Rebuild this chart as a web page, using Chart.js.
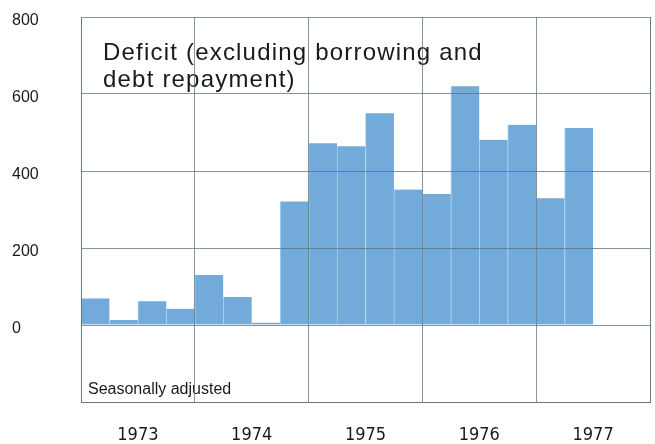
<!DOCTYPE html>
<html>
<head>
<meta charset="utf-8">
<script src="https://cdn.jsdelivr.net/npm/chart.js@4"></script>
<style>
  html,body{margin:0;padding:0;background:#fff;}
  #wrap{width:655px;height:444px;position:relative;}
</style>
</head>
<body>
<div id="wrap"><canvas id="c"></canvas></div>
<script>
// quarterly deficit, seasonally adjusted
const quarters = ["1973 Q1","1973 Q2","1973 Q3","1973 Q4","1974 Q1","1974 Q2","1974 Q3","1974 Q4",
  "1975 Q1","1975 Q2","1975 Q3","1975 Q4","1976 Q1","1976 Q2","1976 Q3","1976 Q4","1977 Q1","1977 Q2"];
const deficit = [69,13,62,42,130,73,6,321,472,464,550,352,340,620,481,520,329,512];
const years = [1973,1974,1975,1976,1977];
const yTicks = [800,600,400,200,0];

// bars sit on a linear time axis, one quarter wide each
const points = quarters.map((q,i)=>{
  const yr = parseInt(q.slice(0,4)), qn = parseInt(q.slice(-1));
  return {x: yr + (qn-0.5)/4, y: deficit[i]};
});

const gridCol = 'rgba(90,115,130,0.75)';

const notes = {
  id:'notes',
  afterDatasetsDraw(chart){
    const c = chart.ctx, a = chart.chartArea;
    c.save();
    c.fillStyle = '#1a1a1a';
    c.textBaseline = 'alphabetic';
    c.font = '24px "Liberation Sans", Arial, sans-serif';
    c.letterSpacing = '1.2px';
    c.fillText('Deficit (excluding borrowing and', a.left+22, a.top+43);
    c.fillText('debt repayment)', a.left+22, a.top+70);
    c.letterSpacing = '0px';
    c.font = '16px "Liberation Sans", Arial, sans-serif';
    c.fillText('Seasonally adjusted', a.left+7, a.bottom-8);
    c.restore();
  }
};

new Chart(document.getElementById('c'),{
  type:'bar',
  data:{datasets:[{
    data:points,
    backgroundColor:'#72aad9',
    borderColor:'#a9d0ef',
    borderWidth:{left:1,right:0,top:0,bottom:0},
    borderSkipped:false,
    barPercentage:1,
    categoryPercentage:1,
    xAxisID:'x'
  }]},
  plugins:[notes],
  options:{
    responsive:true,
    maintainAspectRatio:false,
    animation:false,
    layout:{padding:{left:12,right:5,top:17,bottom:0}},
    plugins:{legend:{display:false},tooltip:{enabled:false}},
    scales:{
      x:{
        type:'linear', min:1973, max:1978, offset:false,
        position:'bottom',
        border:{display:true,color:gridCol,z:1},
        grid:{color:gridCol,lineWidth:1,z:1,drawTicks:false,offset:false},
        afterBuildTicks(ax){ ax.ticks = years.concat([1978]).map(v=>({value:v})); },
        ticks:{display:false},
        afterFit(ax){ ax.height = 0; }
      },
      x2:{
        type:'linear', min:1973, max:1978, offset:false,
        position:'bottom',
        grid:{display:false,drawTicks:false,offset:false},
        border:{display:false},
        afterBuildTicks(ax){ ax.ticks = years.map(v=>({value:v+0.5})); },
        afterFit(ax){ ax.height = 42; },
        ticks:{
          callback:(v)=>String(Math.floor(v)),
          color:'#1a1a1a',
          padding:23,
          maxRotation:0,
          autoSkip:false,
          font:{family:'"Liberation Sans Narrow", "DejaVu Sans Condensed", sans-serif',size:18}
        }
      },
      y:{
        min:-200, max:800,
        afterBuildTicks(ax){ ax.ticks = [-200].concat(yTicks.slice().reverse()).map(v=>({value:v})); },
        border:{display:true,color:gridCol,z:1},
        grid:{color:gridCol,lineWidth:1,z:1,drawTicks:false},
        afterFit(ax){ ax.width = 69; },
        ticks:{
          callback:(v)=> yTicks.includes(v) ? String(v) : '',
          crossAlign:'far',
          labelOffset:4,
          padding:0,
          color:'#1a1a1a',
          font:{family:'"Liberation Sans", Arial, sans-serif',size:16}
        }
      },
      y2:{
        position:'right', min:-200, max:800,
        grid:{display:false},
        border:{display:true,color:gridCol},
        ticks:{display:false},
        afterFit(ax){ ax.width = 0; }
      }
    }
  }
});
</script>
</body>
</html>
